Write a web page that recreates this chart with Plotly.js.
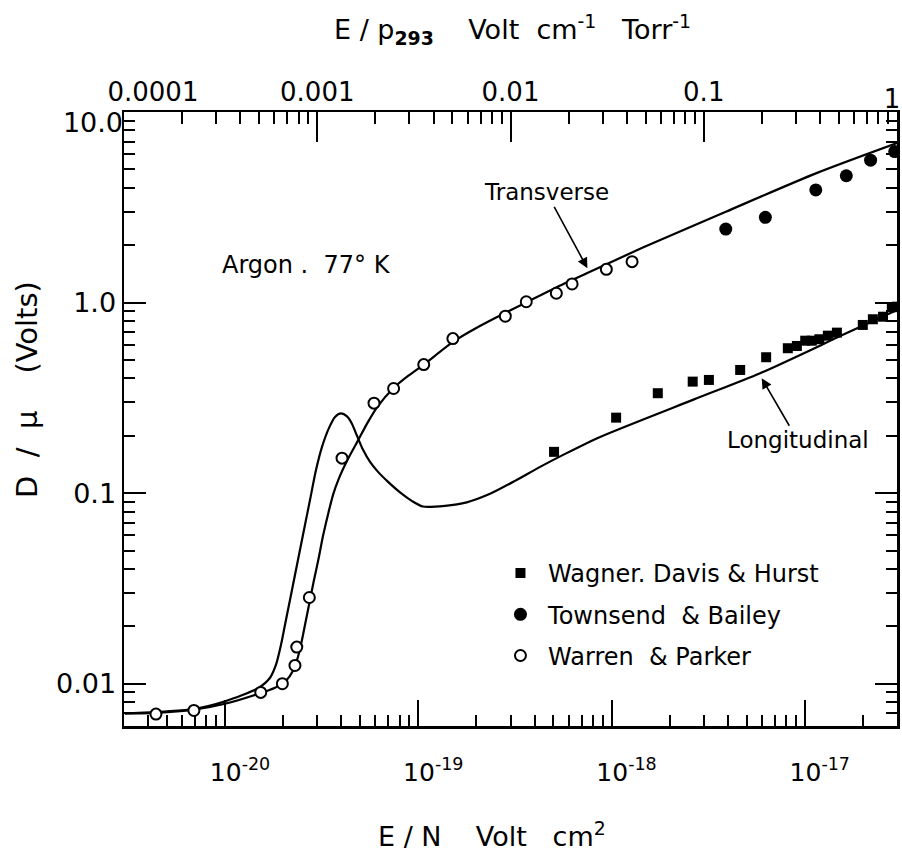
<!DOCTYPE html>
<html>
<head>
<meta charset="utf-8">
<script src="https://cdn.plot.ly/plotly-3.0.1.min.js"></script>
<style>
  html, body { margin: 0; padding: 0; background: #ffffff; }
  #chart { width: 902px; height: 854px; }
</style>
</head>
<body>
<div id="chart"></div>
<script>
// ---------------- data (E/N in V cm^2, D/mu in Volts) ----------------
// Transverse theory curve
const transverseEN = [3.03e-21, 4.4e-21, 6.9e-21, 1.0e-20, 1.530e-20, 1.814e-20, 2.068e-20, 2.247e-20,
  2.385e-20, 2.502e-20, 2.624e-20, 2.753e-20, 2.887e-20, 3.039e-20, 3.214e-20, 3.423e-20, 3.621e-20,
  3.857e-20, 4.329e-20, 4.894e-20, 5.495e-20, 6.153e-20, 7.428e-20, 8.851e-20, 1.0622e-19, 1.518e-19,
  2.038e-19, 2.812e-19, 3.642e-19, 5.164e-19, 7.445e-19, 1.462e-18, 3.903e-18, 1.141e-17, 3.0e-17];
const transverseD = [0.00698, 0.00703, 0.00731, 0.00785, 0.008941, 0.009528, 0.010368, 0.011700,
  0.013856, 0.017007, 0.021654, 0.027573, 0.035111, 0.044692, 0.059715, 0.078545, 0.097971,
  0.11738, 0.15135, 0.19033, 0.23654, 0.28445, 0.35524, 0.41230, 0.47095, 0.62373,
  0.74473, 0.88213, 1.0037, 1.2000, 1.4248, 1.9498, 2.9974, 4.7643, 6.8707];

// Longitudinal theory curve
const longitudinalEN = [3.03e-21, 6.9e-21, 1.0e-20, 1.486e-20, 1.710e-20, 1.835e-20, 1.948e-20, 2.043e-20,
  2.169e-20, 2.302e-20, 2.443e-20, 2.593e-20, 2.753e-20, 2.957e-20, 3.175e-20, 3.452e-20, 3.708e-20,
  3.983e-20, 4.278e-20, 4.541e-20, 4.819e-20, 5.177e-20, 5.627e-20, 6.190e-20, 6.976e-20, 8.139e-20,
  9.25e-20, 1.0583e-19, 1.375e-19, 1.781e-19, 2.351e-19, 3.168e-19, 4.268e-19, 5.749e-19, 8.727e-19,
  2.653e-18, 5.874e-18, 1.585e-17, 3.0e-17];
const longitudinalD = [0.00698, 0.00737, 0.00808, 0.009495, 0.010752, 0.012580, 0.016011, 0.020394,
  0.027573, 0.037293, 0.050431, 0.068219, 0.092233, 0.13251, 0.17486, 0.22000, 0.25124,
  0.26213, 0.25275, 0.23088, 0.19975, 0.16874, 0.14591, 0.12930, 0.11462, 0.1,
  0.09112, 0.08505, 0.08578, 0.08950, 0.09915, 0.11598, 0.13739, 0.16075, 0.19731,
  0.30961, 0.42589, 0.67892, 0.91455];

// Wagner, Davis & Hurst (filled squares)
const wagnerEN = [5.04e-19, 1.056e-18, 1.735e-18, 2.63e-18, 3.19e-18, 4.63e-18, 6.31e-18, 8.17e-18, 9.1e-18,
  1.005e-17, 1.087e-17, 1.19e-17, 1.316e-17, 1.466e-17, 1.996e-17, 2.25e-17, 2.54e-17, 2.82e-17, 3.0e-17];
const wagnerD = [0.1647, 0.249, 0.3345, 0.3848, 0.3927, 0.443, 0.5166, 0.576, 0.592,
  0.631, 0.631, 0.642, 0.6705, 0.6955, 0.763, 0.8175, 0.843, 0.945, 0.952];

// Townsend & Bailey (filled circles)
const townsendEN = [3.90e-18, 6.25e-18, 1.14e-17, 1.64e-17, 2.19e-17, 2.92e-17];
const townsendD = [2.43, 2.80, 3.90, 4.63, 5.59, 6.2];

// Warren & Parker (open circles)
const warrenEN = [4.39e-21, 6.9e-21, 1.53e-20, 1.98e-20, 2.30e-20, 2.35e-20, 2.73e-20, 4.03e-20, 5.90e-20,
  7.45e-20, 1.067e-19, 1.51e-19, 2.82e-19, 3.62e-19, 5.18e-19, 6.25e-19, 9.4e-19, 1.277e-18];
const warrenD = [0.00693, 0.00724, 0.0090, 0.0100, 0.01247, 0.01557, 0.02835, 0.1526, 0.2965,
  0.354, 0.4725, 0.647, 0.848, 1.01, 1.119, 1.252, 1.494, 1.639];

// axis ticks
const xMajorVals = [1e-20, 1e-19, 1e-18, 1e-17];
const xMajorText = ['10<sup>-20</sup>', '10<sup>-19</sup>', '10<sup>-18</sup>', '10<sup>-17</sup>'];
const xMinorDecades = [1e-21, 1e-20, 1e-19, 1e-18, 1e-17];
const yMajorVals = [0.01, 0.1, 1, 10];
const yMajorText = ['0.01', '0.1', '1.0', ''];
const yTopVals = [10];
const yTopText = ['10.0'];
const yMinorDecades = [0.001, 0.01, 0.1, 1];
const topMajorVals = [0.0001, 0.001, 0.01, 0.1, 1];
const topMajorText = ['\u00a0\u00a0\u00a0\u00a0\u00a0\u00a0\u00a00.0001', '0.001', '0.01', '0.1', ''];
const topEndVals = [1];
const topEndText = ['1'];
const topMinorDecades = [0.0001, 0.001, 0.01, 0.1];
const minorMult = [2, 3, 4, 5, 6, 7, 8, 9];

function minorTicks(decades, lo, hi) {
  const out = [];
  decades.forEach(d => minorMult.forEach(m => {
    const v = m * d;
    if (v > lo * 1.0001 && v < hi * 0.9999) out.push(v);
  }));
  return out;
}

const FONT = 'DejaVu Sans, Verdana, sans-serif';
const xRange = [Math.log10(3e-21), Math.log10(3e-17)];
const yRange = [Math.log10(0.006), 1];

const traces = [
  { x: transverseEN, y: transverseD, mode: 'lines', type: 'scatter',
    line: { color: '#000', width: 2.2, shape: 'spline', smoothing: 0.7 }, showlegend: false, hoverinfo: 'skip' },
  { x: longitudinalEN, y: longitudinalD, mode: 'lines', type: 'scatter',
    line: { color: '#000', width: 2.2, shape: 'spline', smoothing: 0.7 }, showlegend: false, hoverinfo: 'skip' },
  { x: wagnerEN, y: wagnerD, mode: 'markers', type: 'scatter', name: '\u00a0Wagner.\u00a0Davis\u00a0&\u00a0Hurst',
    legendgroup: 'a', marker: { symbol: 'square', size: 10, color: '#000' } },
  { x: townsendEN, y: townsendD, mode: 'markers', type: 'scatter', name: '\u00a0Townsend\u00a0\u00a0&\u00a0Bailey',
    legendgroup: 'b', marker: { symbol: 'circle', size: 13, color: '#000' } },
  { x: warrenEN, y: warrenD, mode: 'markers', type: 'scatter', name: '\u00a0Warren\u00a0\u00a0&\u00a0Parker',
    legendgroup: 'c', marker: { symbol: 'circle', size: 11, color: '#fff', line: { color: '#000', width: 2 } } },
  { x: [], y: [], xaxis: 'x2', yaxis: 'y', type: 'scatter', mode: 'markers', showlegend: false, hoverinfo: 'skip' },
  { x: [], y: [], xaxis: 'x3', yaxis: 'y', type: 'scatter', mode: 'markers', showlegend: false, hoverinfo: 'skip' },
  { x: [], y: [], xaxis: 'x', yaxis: 'y2', type: 'scatter', mode: 'markers', showlegend: false, hoverinfo: 'skip' }
];

const layout = {
  width: 902, height: 854,
  margin: { l: 124, r: 5, t: 112, b: 128 },
  paper_bgcolor: '#fff', plot_bgcolor: '#fff',
  font: { family: FONT, color: '#000' },
  showlegend: true,
  legend: { x: 0.487, y: 0.285, xanchor: 'left', yanchor: 'top', bgcolor: 'rgba(0,0,0,0)',
    font: { family: FONT, size: 24, color: '#000' }, traceorder: 'grouped', tracegroupgap: 7 },
  xaxis: {
    type: 'log', range: xRange, tickmode: 'array', tickvals: xMajorVals, ticktext: xMajorText,
    ticks: 'inside', ticklen: 26, tickwidth: 2, tickcolor: '#000',
    showline: true, linewidth: 2.5, linecolor: '#000', mirror: false,
    showgrid: false, zeroline: false, tickfont: { family: FONT, size: 25 },
    ticklabelshift: 15, ticklabelstandoff: 22, ticklabeloverflow: 'allow',
    minor: { tickmode: 'array', tickvals: minorTicks(xMinorDecades, 3e-21, 3e-17), ticks: 'inside',
      ticklen: 11, tickwidth: 2, tickcolor: '#000', showgrid: false }
  },
  xaxis2: {
    type: 'log', range: [-4, 0], overlaying: 'x', side: 'top', anchor: 'y',
    tickmode: 'array', tickvals: topMajorVals, ticktext: topMajorText,
    ticks: 'inside', ticklen: 30, tickwidth: 2, tickcolor: '#000',
    showline: true, linewidth: 2.5, linecolor: '#000',
    showgrid: false, zeroline: false, tickfont: { family: FONT, size: 26 },
    ticklabeloverflow: 'allow', ticklabelstandoff: -2,
    minor: { tickmode: 'array', tickvals: minorTicks(topMinorDecades, 1e-4, 1), ticks: 'inside',
      ticklen: 12, tickwidth: 2, tickcolor: '#000', showgrid: false }
  },
  xaxis3: {
    type: 'log', range: [-4, 0], overlaying: 'x', side: 'top', anchor: 'y',
    tickmode: 'array', tickvals: topEndVals, ticktext: topEndText,
    ticks: 'inside', ticklen: 30, tickwidth: 2, tickcolor: 'rgba(0,0,0,0)',
    showline: false, showgrid: false, zeroline: false, tickfont: { family: FONT, size: 26 },
    ticklabeloverflow: 'allow', ticklabelstandoff: -2, ticklabelshift: -5
  },
  yaxis: {
    type: 'log', range: yRange, tickmode: 'array', tickvals: yMajorVals, ticktext: yMajorText,
    ticks: 'inside', ticklen: 22, tickwidth: 2, tickcolor: '#000',
    showline: true, linewidth: 2.5, linecolor: '#000', mirror: 'ticks',
    showgrid: false, zeroline: false, tickfont: { family: FONT, size: 27 },
    ticklabeloverflow: 'allow',
    minor: { tickmode: 'array', tickvals: minorTicks(yMinorDecades, 0.006, 10), ticks: 'inside',
      ticklen: 11, tickwidth: 2, tickcolor: '#000', showgrid: false }
  },
  yaxis2: {
    type: 'log', range: yRange, overlaying: 'y', side: 'left', anchor: 'x',
    tickmode: 'array', tickvals: yTopVals, ticktext: yTopText, ticks: '',
    showline: false, showgrid: false, zeroline: false, tickfont: { family: FONT, size: 27 },
    ticklabelshift: 11, ticklabeloverflow: 'allow'
  },
  annotations: [
    { xref: 'x', yref: 'y', x: -18.125, y: 0.18, text: 'Transverse', showarrow: true,
      ax: -41, ay: -76, arrowhead: 2, arrowsize: 1.3, arrowwidth: 1.6, arrowcolor: '#000',
      font: { family: FONT, size: 23 } },
    { xref: 'x', yref: 'y', x: -17.2228, y: -0.397, text: 'Longitudinal', showarrow: true,
      ax: 36, ay: 62, arrowhead: 2, arrowsize: 1.3, arrowwidth: 1.6, arrowcolor: '#000',
      font: { family: FONT, size: 23 } },
    { xref: 'paper', yref: 'paper', x: 0.1242, y: 0.7508, xanchor: 'left', yanchor: 'middle',
      text: 'Argon\u00a0.\u00a0\u00a077\u00b0\u00a0K', showarrow: false, font: { family: FONT, size: 24 } },
    { xref: 'paper', yref: 'paper', x: 0.502, y: 1.1336, xanchor: 'center', yanchor: 'middle',
      text: 'E\u00a0/\u00a0p<sub><b>293</b></sub>\u00a0\u00a0\u00a0\u00a0Volt\u00a0\u00a0cm<sup>-1</sup>\u00a0\u00a0\u00a0Torr<sup>-1</sup>',
      showarrow: false, font: { family: FONT, size: 27 } },
    { xref: 'paper', yref: 'paper', x: 0.476, y: -0.1775, xanchor: 'center', yanchor: 'middle',
      text: 'E\u00a0/\u00a0N\u00a0\u00a0\u00a0\u00a0Volt\u00a0\u00a0\u00a0cm<sup>2</sup>',
      showarrow: false, font: { family: FONT, size: 27 } },
    { xref: 'paper', yref: 'paper', x: -0.1255, y: 0.549, xanchor: 'center', yanchor: 'middle',
      textangle: -90, text: 'D\u00a0\u00a0/\u00a0\u00a0\u03bc\u00a0\u00a0\u00a0\u00a0(Volts)',
      showarrow: false, font: { family: FONT, size: 29 } }
  ]
};

Plotly.newPlot('chart', traces, layout, { displayModeBar: false, responsive: false, staticPlot: true });
</script>
</body>
</html>
